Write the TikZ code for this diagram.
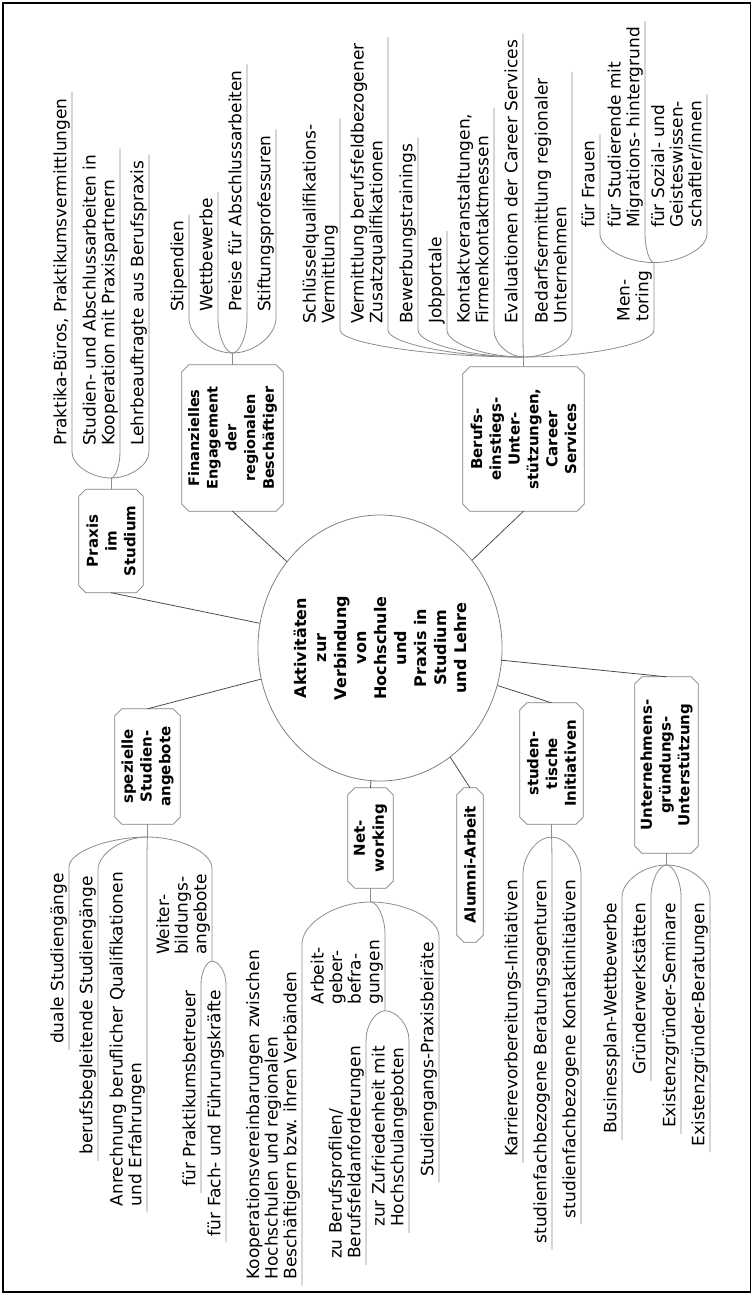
\documentclass[tikz,border=0pt]{standalone}
\usepackage{fontspec}
\setmainfont{DejaVu Sans}
\usetikzlibrary{calc,shapes.geometric}
\definecolor{hubedge}{gray}{0.3}
\definecolor{boxc}{gray}{0.5}
\definecolor{brc}{gray}{0.55}
\newcommand\leaffont{\fontsize{17}{18.6}\selectfont}
\newcommand\hubfont{\fontsize{15}{18.8}\selectfont\bfseries}
\newcommand\corefont{\fontsize{16}{20}\selectfont\bfseries}
\newcommand\octbox[1]{\draw[boxline] let \p1=(#1.north east), \p2=(#1.south west) in
  (\x1+7pt,\y1) -- (\x2-7pt,\y1) -- (\x2,\y1-7pt) -- (\x2,\y2+7pt) -- (\x2-7pt,\y2)
  -- (\x1+7pt,\y2) -- (\x1,\y2+7pt) -- (\x1,\y1-7pt) -- cycle;}
% upward branch: junction -> start of underline -> end of underline
\newcommand\upc[2]{\draw[br] (#1) .. controls ($(#1)!0.5!(#1 -| #2.south west)$) and ($(#1 -| #2.south west)!0.5!(#2.south west)$) .. (#2.south west) -- (#2.south east);}
% downward branch
\newcommand\dnc[2]{\draw[br] (#1) .. controls ($(#1)!0.5!(#1 -| #2.south east)$) and ($(#1 -| #2.south east)!0.5!(#2.south east)$) .. (#2.south east) -- (#2.south west);}
\tikzset{
  hub/.style={rotate=90, align=center, font=\hubfont, inner sep=0pt},
  boxline/.style={draw=boxc, line width=0.8pt},
  br/.style={draw=brc, line width=0.8pt},
  spoke/.style={draw=hubedge, line width=0.8pt},
  leafup/.style={rotate=90, anchor=south west, align=left, font=\leaffont,
    inner xsep=6pt, inner ysep=1.5pt, text depth=4pt},
  leafdn/.style={leafup, anchor=south east},
}
\begin{document}
\begin{tikzpicture}[x=1pt, y=-1pt]
\useasboundingbox (0,0) rectangle (751,1294);
\draw[line width=1.5pt] (3,3) rectangle (750.5,1292);

% centre
\node[draw=boxc, line width=0.8pt, ellipse, rotate=90, minimum width=266pt,
  minimum height=220pt, inner sep=0pt, align=center, font=\corefont] (core) at (380,648)
  {Aktivitäten\\zur\\Verbindung\\von\\Hochschule\\und\\Praxis in\\Studium\\und Lehre};

% hubs
\node[hub, minimum width=103pt, minimum height=64pt] (praxis) at (111,541) {Praxis\\im\\Studium};
\node[hub, font=\fontsize{14.5}{18.7}\selectfont\bfseries, minimum width=146pt, minimum height=101pt] (fin) at (232.5,438)
  {Finanzielles\\Engagement\\der\\regionalen\\Beschäftiger};
\node[hub, minimum width=144pt, minimum height=121pt] (beruf) at (523.5,439)
  {Berufs-\\einstiegs-\\Unter-\\stützungen,\\Career\\Services};
\node[hub, minimum width=115pt, minimum height=65pt] (spez) at (147.5,766.5) {spezielle\\Studien-\\angebote};
\node[hub, minimum width=100pt, minimum height=45pt] (net) at (370.5,838) {Net-\\working};
\node[hub, minimum width=154pt, minimum height=26pt] (alumni) at (470,865) {Alumni-Arbeit};
\node[hub, minimum width=121pt, minimum height=63pt] (stud) at (551.5,763.5) {studen-\\tische\\Initiativen};
\node[hub, minimum width=176pt, minimum height=63pt] (unt) at (666.5,765)
  {Unternehmens-\\gründungs-\\Unterstützung};
\foreach \b in {praxis,fin,beruf,spez,net,alumni,stud,unt} {\octbox{\b}}

% spokes
\draw[spoke] (praxis.west) -- (core);
\draw[spoke] (fin.west) -- (core);
\draw[spoke] (beruf.west) -- (core);
\draw[spoke] (spez.east) -- (core);
\draw[spoke] (net.east) -- (core);
\draw[spoke] (alumni.east) -- (core);
\draw[spoke] (stud.east) -- (core);
\draw[spoke] (unt.east) -- (core);

% junctions
\coordinate (Jp) at (111,478);
\coordinate (Jf) at (232.5,353);
\coordinate (Jb) at (523.5,357);
\coordinate (Js) at (147.5,837);
\coordinate (Jn) at (370.5,902);
\coordinate (Jt) at (551.5,837);
\coordinate (Ju) at (666.5,865);
\draw[br] (praxis.east) -- (Jp);
\draw[br] (fin.east) -- (Jf);
\draw[br] (beruf.east) -- (Jb);
\draw[br] (spez.west) -- (Js);
\draw[br] (net.west) -- (Jn);
\draw[br] (stud.west) -- (Jt);
\draw[br] (unt.west) -- (Ju);

% Praxis im Studium
\node[leafup] (p1) at (72,452) {Praktika-Büros, Praktikumsvermittlungen};
\node[leafup] (p2) at (120,452) {Studien- und Abschlussarbeiten in\\Kooperation mit Praxispartnern};
\node[leafup] (p3) at (149,452) {Lehrbeauftragte aus Berufspraxis};
\foreach \n in {p1,p2,p3} {\upc{Jp}{\n}}

% Finanzielles Engagement
\node[leafup] (f1) at (189,318) {Stipendien};
\node[leafup] (f2) at (218,318) {Wettbewerbe};
\node[leafup] (f3) at (247,318) {Preise für Abschlussarbeiten};
\node[leafup] (f4) at (276,318) {Stiftungsprofessuren};
\foreach \n in {f1,f2,f3,f4} {\upc{Jf}{\n}}

% Berufseinstieg
\node[leafup] (b1) at (340,330) {Schlüsselqualifikations-\\Vermittlung};
\node[leafup] (b2) at (388,330) {Vermittlung berufsfeldbezogener\\Zusatzqualifikationen};
\node[leafup] (b3) at (418,330) {Bewerbungstrainings};
\node[leafup] (b4) at (447,330) {Jobportale};
\node[leafup] (b5) at (494,330) {Kontaktveranstaltungen,\\Firmenkontaktmessen};
\node[leafup] (b6) at (523,330) {Evaluationen der Career Services};
\node[leafup] (b7) at (572,330) {Bedarfsermittlung regionaler\\Unternehmen};
\node[leafup, minimum width=67pt] (b8) at (654,330) {Men-\\toring};
\foreach \n in {b1,b2,b3,b4,b5,b6,b7,b8} {\upc{Jb}{\n}}

% Mentoring
\node[leafup] (m1) at (600,234) {für Frauen};
\node[leafup] (m2) at (645,234) {für Studierende mit\\Migrations- hintergrund};
\node[leafup] (m3) at (707,234) {für Sozial- und\\Geisteswissen-\\schaftler/innen};
\foreach \n in {m1,m2,m3} {\upc{b8.south east}{\n}}

% spezielle Studienangebote
\node[leafdn] (s1) at (69,867) {duale Studiengänge};
\node[leafdn] (s2) at (98,870) {berufsbegleitende Studiengänge};
\node[leafdn] (s3) at (147,866) {Anrechnung beruflicher Qualifikationen\\und Erfahrungen};
\node[leafdn] (s4) at (212,868) {Weiter-\\bildungs-\\angebote};
\foreach \n in {s1,s2,s3,s4} {\dnc{Js}{\n}}
\node[leafdn] (s41) at (201,984) {für Praktikumsbetreuer};
\node[leafdn] (s42) at (226,984) {für Fach- und Führungskräfte};
\foreach \n in {s41,s42} {\dnc{s4.south west}{\n}}

% Networking
\node[leafdn] (n1) at (302,944) {Kooperationsvereinbarungen zwischen\\Hochschulen und regionalen\\Beschäftigern bzw. ihren Verbänden};
\node[leafdn] (n2) at (385,934) {Arbeit-\\geber-\\befra-\\gungen};
\node[leafdn] (n3) at (439,936) {Studiengangs-Praxisbeiräte};
\foreach \n in {n1,n2,n3} {\dnc{Jn}{\n}}
\node[leafdn] (n21) at (366,1040) {zu Berufsprofilen/\\Berufsfeldanforderungen};
\node[leafdn] (n22) at (409,1040) {zur Zufriedenheit mit\\Hochschulangeboten};
\foreach \n in {n21,n22} {\dnc{n2.south west}{\n}}

% studentische Initiativen
\node[leafdn] (t1) at (523,874) {Karrierevorbereitungs-Initiativen};
\node[leafdn] (t2) at (552,874) {studienfachbezogene Beratungsagenturen};
\node[leafdn] (t3) at (581,874) {studienfachbezogene Kontaktinitiativen};
\foreach \n in {t1,t2,t3} {\dnc{Jt}{\n}}

% Unternehmensgruendung
\node[leafdn] (u1) at (622,897) {Businessplan-Wettbewerbe};
\node[leafdn] (u2) at (651,897) {Gründerwerkstätten};
\node[leafdn] (u3) at (681,897) {Existenzgründer-Seminare};
\node[leafdn] (u4) at (710,897) {Existenzgründer-Beratungen};
\foreach \n in {u1,u2,u3,u4} {\dnc{Ju}{\n}}
\end{tikzpicture}
\end{document}
